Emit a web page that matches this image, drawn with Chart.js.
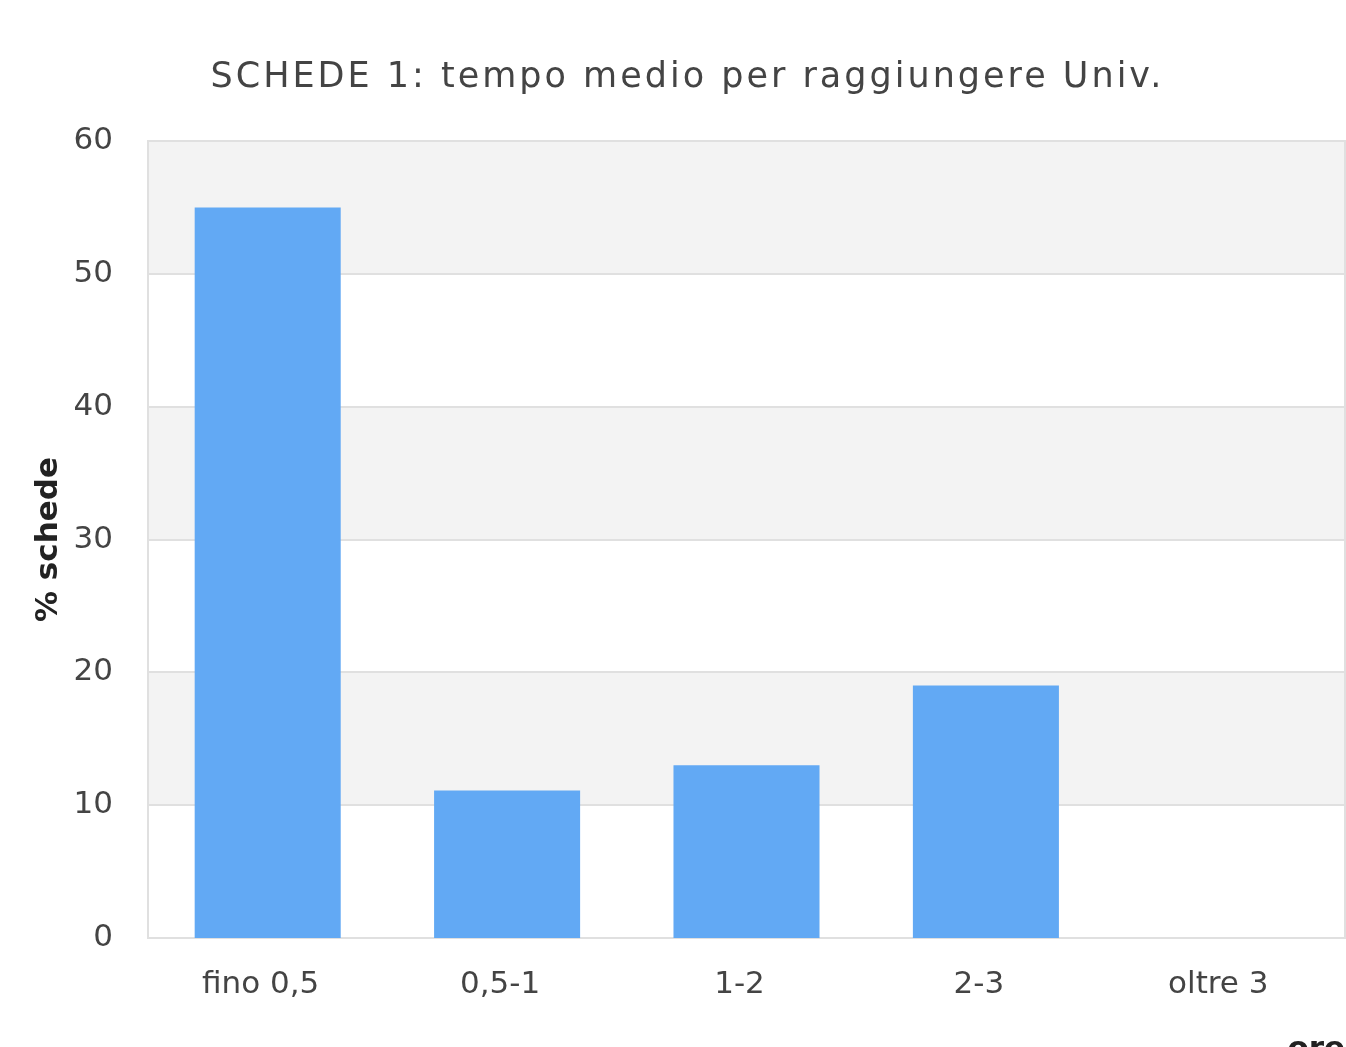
<!DOCTYPE html>
<html>
<head>
<meta charset="utf-8">
<script src="https://cdn.jsdelivr.net/npm/chart.js@4/dist/chart.umd.min.js"></script>
<style>
  html, body { margin: 0; padding: 0; background: #fff; overflow: hidden; }
  #wrap { width: 1346px; height: 1075px; }
</style>
</head>
<body>
<div id="wrap"><canvas id="c" width="1346" height="1075"></canvas></div>
<script>
const categories = ["fino 0,5", "0,5-1", "1-2", "2-3", "oltre 3"];
const values = [55, 11.1, 13, 19, 0];
const yTicks = [0, 10, 20, 30, 40, 50, 60];
const chartTitle = "SCHEDE 1: tempo medio per raggiungere Univ.";
const yTitle = "% schede";
const xTitle = "ore";

const bandPlugin = {
  id: 'bands',
  beforeDatasetsDraw(chart) {
    const {ctx, chartArea: a, scales: {y}} = chart;
    ctx.save();
    for (let i = 0; i < yTicks.length - 1; i++) {
      if (i % 2 === 1) {
        const y1 = y.getPixelForValue(yTicks[i]);
        const y2 = y.getPixelForValue(yTicks[i + 1]);
        ctx.fillStyle = '#f3f3f3';
        ctx.fillRect(a.left, y2, a.right - a.left, y1 - y2);
      }
    }
    ctx.strokeStyle = '#e0e0e0';
    ctx.lineWidth = 2;
    for (const t of yTicks) {
      const py = Math.round(y.getPixelForValue(t));
      ctx.beginPath();
      ctx.moveTo(a.left, py);
      ctx.lineTo(a.right, py);
      ctx.stroke();
    }
    ctx.strokeRect(a.left, a.top, a.right - a.left, a.bottom - a.top);
    ctx.restore();
  }
};

// widen the title letter spacing like the reference rendering
const titleSpacing = {
  id: 'titleSpacing',
  afterLayout(chart) {
    const tb = chart.titleBlock;
    if (tb && !tb._spaced) {
      const orig = tb.draw.bind(tb);
      tb.draw = function () {
        const ctx = chart.ctx;
        const prev = ctx.letterSpacing;
        ctx.letterSpacing = '3px';
        orig();
        ctx.letterSpacing = prev || '0px';
      };
      tb._spaced = true;
    }
  }
};

new Chart(document.getElementById('c'), {
  type: 'bar',
  data: {
    labels: categories,
    datasets: [{
      data: values,
      backgroundColor: '#62a9f4',
      borderWidth: 0,
      barPercentage: 0.61,
      categoryPercentage: 1.0
    }]
  },
  options: {
    responsive: false,
    animation: false,
    devicePixelRatio: 1,
    layout: { padding: { left: 30, right: 1, top: 0, bottom: 0 } },
    plugins: {
      legend: { display: false },
      tooltip: { enabled: false },
      title: {
        display: true,
        text: chartTitle,
        color: '#444',
        font: { family: 'DejaVu Sans', size: 35, weight: 'normal', lineHeight: 1.2 },
        padding: { top: 57, bottom: 42 }
      }
    },
    scales: {
      x: {
        grid: { display: false, drawTicks: false },
        border: { display: false },
        ticks: { color: '#444', font: { family: 'DejaVu Sans', size: 31 }, padding: 28, maxRotation: 0, labelOffset: -7 },
        title: { display: true, text: xTitle, align: 'end', color: '#222',
                 font: { family: 'DejaVu Sans', size: 31, weight: 'bold' }, padding: { top: 0, bottom: 6 } },
        afterFit(s) { s.height = 137; }
      },
      y: {
        min: 0, max: 60,
        afterBuildTicks(s) { s.ticks = yTicks.map(v => ({ value: v })); },
        grid: { display: false, drawTicks: false },
        border: { display: false },
        ticks: { color: '#444', font: { family: 'DejaVu Sans', size: 31 }, padding: 35 },
        title: { display: true, text: yTitle, color: '#222',
                 font: { family: 'DejaVu Sans', size: 31, weight: 'bold' }, padding: 0 },
        afterFit(s) { s.width = 118; }
      }
    }
  },
  plugins: [bandPlugin, titleSpacing]
});
</script>
</body>
</html>
